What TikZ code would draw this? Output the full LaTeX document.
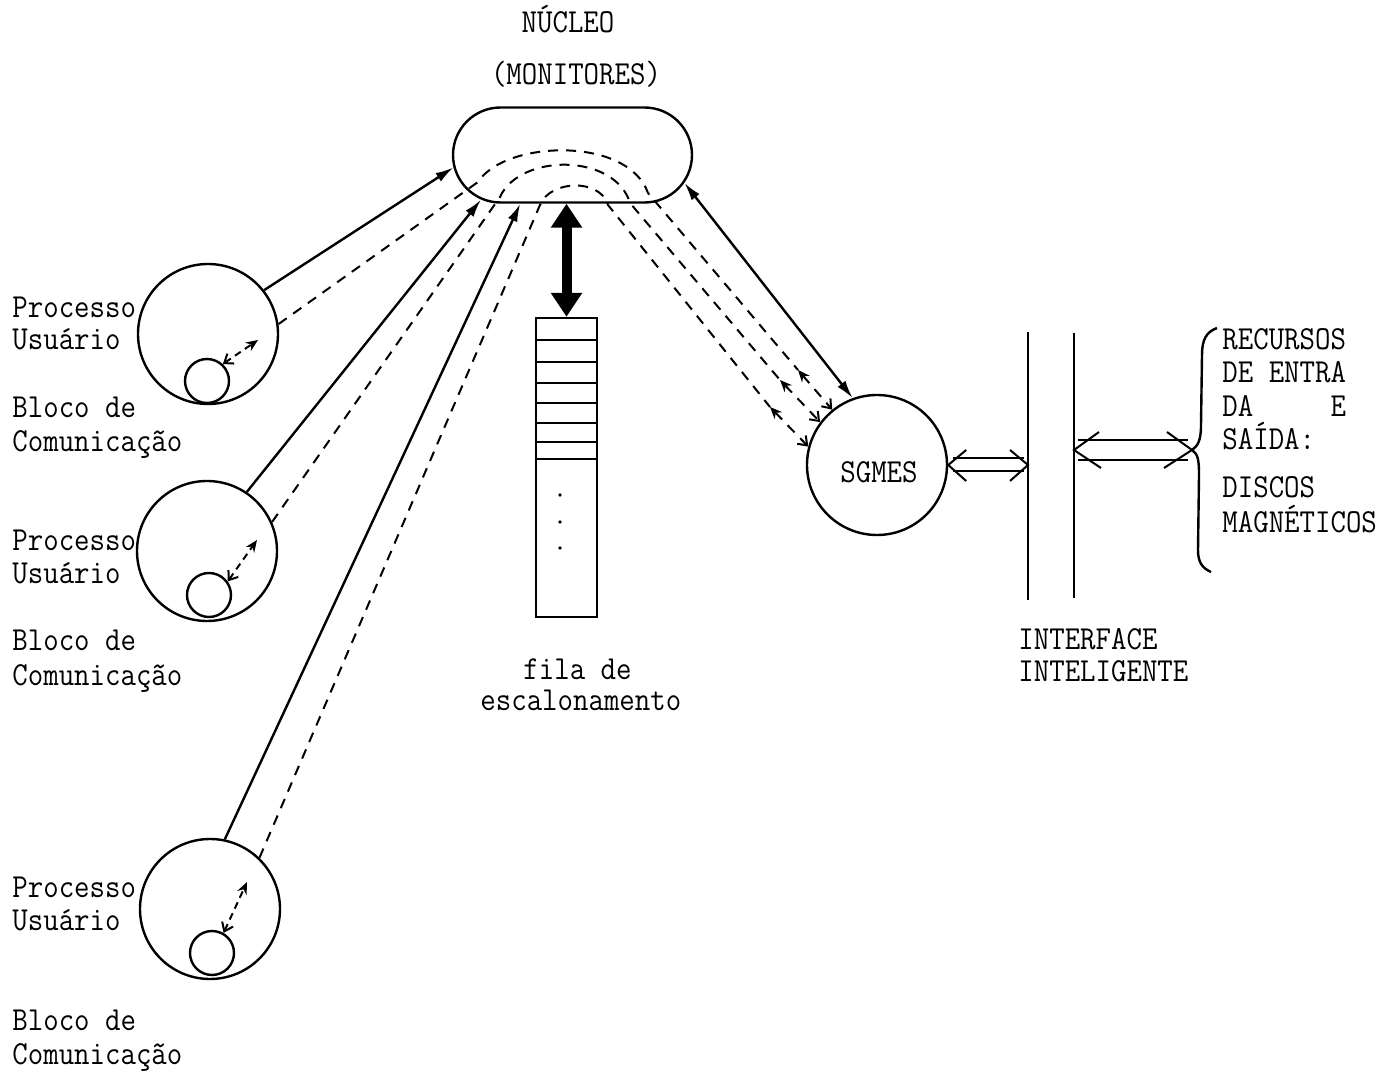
\documentclass[tikz,border=0pt]{standalone}
\usepackage{fontspec}
\usetikzlibrary{arrows.meta,shapes.misc,calc}
\newcommand\stxt[1]{\scalebox{1}[1.12]{\ttfamily #1}}
\begin{document}
\begin{tikzpicture}[x=0.5pt,y=-0.5pt,
  every node/.style={font=\fontsize{15pt}{18pt}\selectfont},
  txt/.style={anchor=base west, inner sep=0pt},
  txtc/.style={anchor=base, inner sep=0pt},
  ln/.style={line width=1.2pt},
  lthin/.style={line width=1pt},
  dsh/.style={line width=1pt, dash pattern=on 5pt off 4pt},
  dshs/.style={line width=1pt, dash pattern=on 3.5pt off 2.5pt},
  bigc/.style={circle, draw, line width=1.2pt, minimum size=70pt, inner sep=0pt},
  smc/.style={circle, draw, line width=1.2pt, minimum size=22pt, inner sep=0pt},
  tipF/.tip={Latex[length=9pt,width=5pt]},
  tipS/.tip={Stealth[length=6pt,width=5pt]},
  tipB/.tip={Straight Barb[length=4pt,width=6pt]},
]
\useasboundingbox (0,0) rectangle (1387,1074);

% nucleus
\node[rounded rectangle, draw, line width=1.2pt, minimum width=119.5pt, minimum height=47.5pt, inner sep=0pt] (nuc) at (572.5,155) {};
\node[txtc] (t1) at (568,33) {\stxt{NÚCLEO}};
\node[txtc] (t2) at (576,85) {\stxt{(MONITORES)}};

% processes
\node[bigc] (p1) at (208,334) {};
\node[smc] (s1) at (207,381) {};
\node[bigc] (p2) at (207,551) {};
\node[smc] (s2) at (209,595) {};
\node[bigc] (p3) at (210,909) {};
\node[smc] (s3) at (212,953) {};

\node[txt] (l1a) at (12,318) {\stxt{Processo}};
\node[txt] (l1b) at (12,350) {\stxt{Usuário}};
\node[txt] (l1c) at (12,418) {\stxt{Bloco de}};
\node[txt] (l1d) at (12,452) {\stxt{Comunicação}};
\node[txt] (l2a) at (12,551) {\stxt{Processo}};
\node[txt] (l2b) at (12,584) {\stxt{Usuário}};
\node[txt] (l2c) at (12,651) {\stxt{Bloco de}};
\node[txt] (l2d) at (12,685) {\stxt{Comunicação}};
\node[txt] (l3a) at (12,897) {\stxt{Processo}};
\node[txt] (l3b) at (12,930) {\stxt{Usuário}};
\node[txt] (l3c) at (12,1030) {\stxt{Bloco de}};
\node[txt] (l3d) at (12,1064) {\stxt{Comunicação}};

% queue
\node[draw, line width=1.2pt, minimum width=30.5pt, minimum height=149.5pt, inner sep=0pt] (q) at (566.5,467.5) {};
\foreach \yy in {340,362,383,403,423,442,459} \draw[ln] (536,\yy) -- (597,\yy);
\foreach \yy in {495,522,548} \fill (560,\yy) circle (0.9pt);
\draw[line width=5pt, {Triangle[length=12pt,width=15pt]}-{Triangle[length=12pt,width=15pt]}] (nuc.south -| q.north) -- (q.north);
\node[txt] (f1) at (523,680) {\stxt{fila de}};
\node[txt] (f2) at (480,711) {\stxt{escalonamento}};

% SGMES
\node[bigc] (sg) at (877,465) {};
\node[txtc] (sgl) at (879,483) {\stxt{SGMES}};

% solid connectors
\draw[ln, -tipF] (p1.38) -- (nuc.186);
\draw[ln, -tipF] (p2.56) -- (nuc.206);
\draw[ln, -tipF] (p3.78) -- (nuc.223);
\draw[ln, tipF-tipF] (nuc.346) -- (sg.110);

% dashed paths
\coordinate (a3) at (798,370);
\coordinate (a2) at (780,380);
\coordinate (a1) at (770,407);
\draw[dsh] (p1.8) -- (478,182) .. controls (505,140) and (628,136) .. (648,193) -- (a3);
\draw[dsh] (p2.24) -- (500,197) .. controls (520,153) and (615,153) .. (630,203) -- (a2);
\draw[dsh] (p3.46) -- (540,205) .. controls (550,180) and (600,178) .. (608,205) -- (a1);
\draw[dsh, tipS-tipB] (a3) -- (sg.129);
\draw[dsh, tipS-tipB] (a2) -- (sg.143);
\draw[dsh, tipS-tipB] (a1) -- (sg.165);

% inner arrows
\coordinate (u1) at (258,340);
\coordinate (u2) at (257,540);
\coordinate (u3) at (247,882);
\draw[dshs, tipB-tipS] (s1.47) -- (u1);
\draw[dshs, tipB-tipS] (s2.36) -- (u2);
\draw[dshs, tipB-tipS] (s3.60) -- (u3);

% interface
\coordinate (i1t) at (1028,332); \coordinate (i1b) at (1028,600);
\coordinate (i2t) at (1074,333); \coordinate (i2b) at (1074,598);
\draw[ln] (i1t) -- (i1b);
\draw[ln] (i2t) -- (i2b);
\node[txt] (if1) at (1018,650) {\stxt{INTERFACE}};
\node[txt] (if2) at (1018,682) {\stxt{INTELIGENTE}};

% double arrow SGMES - interface
\coordinate (la) at (sg.east);
\coordinate (lb) at (sg.east -| i1t);
\draw[lthin] ($(la)+(5,-6.5)$) -- ($(lb)+(-4,-6.5)$);
\draw[lthin] ($(la)+(5,6.5)$) -- ($(lb)+(-4,6.5)$);
\draw[lthin] ($(la)+(18,-15)$) -- (la) -- ($(la)+(18,16)$);
\draw[lthin] ($(lb)+(-18,-15)$) -- (lb) -- ($(lb)+(-18,16)$);

% double arrow interface - brace
\coordinate (ra) at (1074,450);
\coordinate (rb) at (1192,450);
\draw[lthin] ($(ra)+(4,-10)$) -- ($(rb)+(-4,-10)$);
\draw[lthin] ($(ra)+(4,10)$) -- ($(rb)+(-4,10)$);
\draw[lthin] ($(ra)+(25,-18)$) -- (ra) -- ($(ra)+(27,18)$);
\draw[lthin] ($(rb)+(-25,-18)$) -- (rb) -- ($(rb)+(-28,18)$);

% brace
\draw[ln] (1217,328) .. controls (1206,332) and (1202,340) .. (1202,355) -- (1201,425) .. controls (1201,440) and (1198,446) .. (rb) .. controls (1198,454) and (1199,460) .. (1199,475) -- (1198,550) .. controls (1198,562) and (1202,568) .. (1211,572);

\node[txt] (r1) at (1222,350) {\stxt{RECURSOS}};
\node[txt] (r2) at (1222,383) {\stxt{DE ENTRA}};
\node[txt] (r3) at (1222,417) {\stxt{DA\ \ \ \ \ E}};
\node[txt] (r4) at (1222,450) {\stxt{SAÍDA:}};
\node[txt] (r5) at (1222,498) {\stxt{DISCOS}};
\node[txt] (r6) at (1222,533) {\stxt{MAGNÉTICOS}};
\end{tikzpicture}
\end{document}
